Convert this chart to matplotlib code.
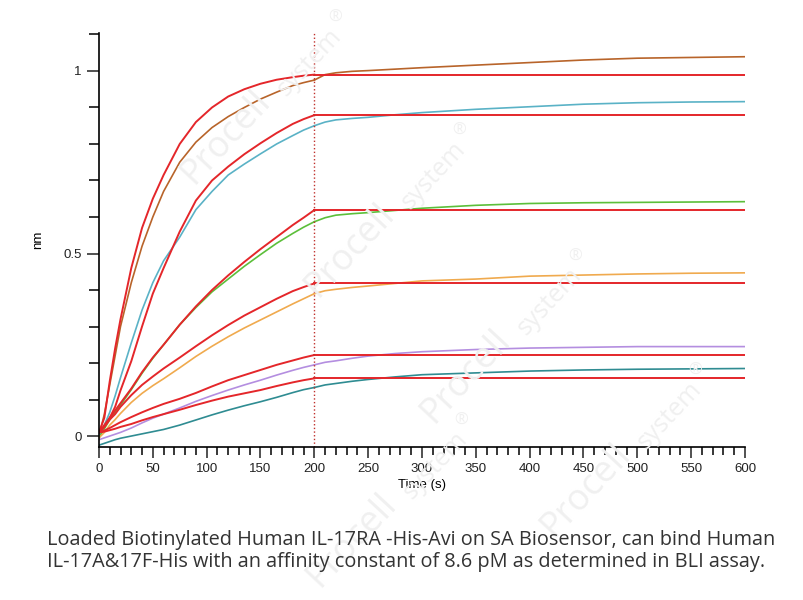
import numpy as np
import matplotlib.pyplot as plt
from matplotlib.ticker import MultipleLocator

# time points (s)
t_assoc = [0, 5, 10, 15, 20, 30, 40, 50, 60, 75, 90, 105, 120, 135, 150, 165, 180, 190, 200]
t_dissoc = [200, 210, 220, 235, 250, 275, 300, 350, 400, 450, 500, 550, 600]

# measured traces, association phase
m1_a = [0.0, 0.06, 0.14, 0.22, 0.30, 0.42, 0.52, 0.60, 0.67, 0.75, 0.805, 0.845, 0.875, 0.90, 0.923, 0.942, 0.96, 0.968, 0.975]
m2_a = [0.0, 0.03, 0.065, 0.11, 0.16, 0.255, 0.345, 0.42, 0.48, 0.545, 0.62, 0.67, 0.715, 0.745, 0.773, 0.80, 0.823, 0.838, 0.85]
m3_a = [-0.005, 0.02, 0.045, 0.065, 0.085, 0.127, 0.172, 0.213, 0.25, 0.305, 0.352, 0.395, 0.43, 0.465, 0.497, 0.528, 0.555, 0.572, 0.587]
m4_a = [-0.005, 0.01, 0.03, 0.045, 0.062, 0.092, 0.117, 0.138, 0.157, 0.187, 0.218, 0.246, 0.272, 0.296, 0.318, 0.34, 0.362, 0.376, 0.39]
m5_a = [-0.01, -0.005, 0.0, 0.005, 0.01, 0.022, 0.036, 0.049, 0.06, 0.077, 0.095, 0.111, 0.126, 0.14, 0.153, 0.167, 0.18, 0.188, 0.195]
m6_a = [-0.025, -0.02, -0.015, -0.01, -0.006, 0.0, 0.006, 0.012, 0.018, 0.03, 0.044, 0.058, 0.071, 0.083, 0.094, 0.106, 0.119, 0.127, 0.133]

# measured traces, dissociation phase
m1_d = [0.975, 0.99, 0.995, 0.999, 1.001, 1.005, 1.009, 1.016, 1.023, 1.03, 1.035, 1.037, 1.039]
m2_d = [0.85, 0.86, 0.866, 0.87, 0.873, 0.88, 0.886, 0.895, 0.902, 0.909, 0.913, 0.915, 0.916]
m3_d = [0.587, 0.598, 0.605, 0.609, 0.612, 0.618, 0.624, 0.632, 0.637, 0.639, 0.640, 0.641, 0.642]
m4_d = [0.39, 0.398, 0.402, 0.407, 0.411, 0.418, 0.425, 0.43, 0.438, 0.441, 0.444, 0.446, 0.447]
m5_d = [0.195, 0.202, 0.206, 0.213, 0.219, 0.226, 0.231, 0.237, 0.241, 0.243, 0.245, 0.245, 0.245]
m6_d = [0.133, 0.14, 0.144, 0.15, 0.155, 0.162, 0.168, 0.173, 0.178, 0.181, 0.183, 0.184, 0.185]

# fitted curves, association phase
f1_a = [0.01, 0.05, 0.15, 0.24, 0.32, 0.46, 0.57, 0.65, 0.715, 0.80, 0.86, 0.90, 0.93, 0.95, 0.965, 0.976, 0.983, 0.987, 0.99]
f2_a = [0.01, 0.025, 0.05, 0.08, 0.125, 0.205, 0.30, 0.39, 0.46, 0.56, 0.645, 0.70, 0.738, 0.772, 0.802, 0.83, 0.855, 0.868, 0.879]
f3_a = [0.01, 0.03, 0.05, 0.07, 0.09, 0.13, 0.175, 0.215, 0.25, 0.305, 0.355, 0.40, 0.44, 0.477, 0.512, 0.545, 0.578, 0.598, 0.619]
f4_a = [0.01, 0.025, 0.045, 0.06, 0.08, 0.112, 0.14, 0.163, 0.185, 0.215, 0.246, 0.276, 0.304, 0.33, 0.353, 0.376, 0.397, 0.408, 0.418]
f5_a = [0.01, 0.015, 0.022, 0.03, 0.038, 0.052, 0.065, 0.077, 0.088, 0.102, 0.118, 0.136, 0.153, 0.167, 0.181, 0.195, 0.207, 0.215, 0.222]
f6_a = [0.01, 0.012, 0.016, 0.02, 0.025, 0.033, 0.043, 0.052, 0.06, 0.072, 0.085, 0.097, 0.108, 0.117, 0.126, 0.137, 0.147, 0.153, 0.158]

# fitted plateaus, dissociation phase
t_fit_d = [200, 600]
fit_levels = [0.99, 0.879, 0.619, 0.418, 0.222, 0.158]

trace_colors = ['#b8642a', '#5ab2c6', '#5cbf3a', '#f0aa4e', '#b48ee0', '#2f8c92']
fit_color = '#e4262a'

meas_a = [m1_a, m2_a, m3_a, m4_a, m5_a, m6_a]
meas_d = [m1_d, m2_d, m3_d, m4_d, m5_d, m6_d]
fits_a = [f1_a, f2_a, f3_a, f4_a, f5_a, f6_a]

plt.rcParams['font.family'] = ['Liberation Sans', 'DejaVu Sans']
fig = plt.figure(figsize=(8.04, 6), dpi=100)

# 水印 (faint, rotated), pixel centre of the word "Procell"
wm_pos = [(226, 137), (350, 250), (466, 376), (586, 490), (352, 540)]
wm_col = '#f0f0f0'
for px, py in wm_pos:
    fig.text(px / 804, 1 - py / 600, 'Procell', fontsize=26, family='Open Sans',
             color=wm_col, rotation=47, ha='center', va='center', zorder=0)
    fig.text((px + 84) / 804, 1 - (py - 75) / 600, 'system', fontsize=18, family='Open Sans',
             color=wm_col, rotation=47, ha='center', va='center', zorder=0)
    fig.text((px + 109) / 804, 1 - (py - 119) / 600, '®', fontsize=12, family='Open Sans',
             color=wm_col, ha='center', va='center', zorder=0)

ax = fig.add_axes([0.1231, 0.255, 0.8035, 0.69])
ax.patch.set_alpha(0)

for ma, md, c in zip(meas_a, meas_d, trace_colors):
    ax.plot(t_assoc, ma, color=c, lw=1.2)
    ax.plot(t_dissoc, md, color=c, lw=1.2)

for fa, lvl in zip(fits_a, fit_levels):
    ax.plot(t_assoc, fa, color=fit_color, lw=1.4)
    ax.plot(t_fit_d, [lvl, lvl], color=fit_color, lw=1.4)

ax.axvline(200, color='#c0302c', lw=1.0, ls=':')

ax.set_xlim(0, 600)
ax.set_ylim(-0.03, 1.104)
ax.spines['top'].set_visible(False)
ax.spines['right'].set_visible(False)
ax.spines['left'].set_linewidth(1.2)
ax.spines['bottom'].set_linewidth(1.2)
ax.xaxis.set_major_locator(MultipleLocator(50))
ax.xaxis.set_minor_locator(MultipleLocator(10))
ax.yaxis.set_minor_locator(MultipleLocator(0.1))
ax.set_yticks([0, 0.5, 1])
ax.set_yticklabels(['0', '0.5', '1'])
ax.tick_params(axis='x', which='major', length=8, width=1.1, labelsize=9.5, colors='#222222')
ax.tick_params(axis='x', which='minor', length=6, width=1.1)
ax.tick_params(axis='y', which='major', length=9, width=1.1, labelsize=9.5, colors='#222222')
ax.tick_params(axis='y', which='minor', length=7, width=1.1)
ax.set_xlabel('Time (s)', fontsize=9.5, labelpad=3)
ax.set_ylabel('nm', fontsize=9.5)
ax.yaxis.set_label_coords(-0.085, 0.5)

fig.text(0.058, 0.0995, 'Loaded Biotinylated Human IL-17RA -His-Avi on SA Biosensor, can bind Human',
         fontsize=14.3, family='Open Sans', color='#333333', va='center')
fig.text(0.058, 0.063, 'IL-17A&17F-His with an affinity constant of 8.6 pM as determined in BLI assay.',
         fontsize=14.3, family='Open Sans', color='#333333', va='center')

fig.savefig('out.png', dpi=100)
